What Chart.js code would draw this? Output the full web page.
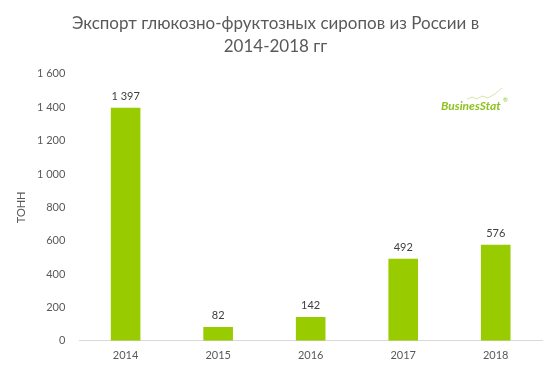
<!DOCTYPE html>
<html><head><meta charset="utf-8">
<script src="https://cdn.jsdelivr.net/npm/chart.js@4"></script>
<style>html,body{margin:0;padding:0;background:#fff}#w{width:556px;height:372px}</style>
</head><body><div id="w"><canvas id="c"></canvas></div>
<script>
const titleLines = ['Экспорт глюкозно-фруктозных сиропов из России в', '2014-2018 гг'];
const categories = ['2014', '2015', '2016', '2017', '2018'];
const exportTons = [1397, 82, 142, 492, 576];
const yAxisTitle = 'ТОНН';
const yMax = 1600, yStep = 200;

const fmt = v => String(v).replace(/\B(?=(\d{3})+(?!\d))/g, ' ');
const FONT = 'Lato, "Open Sans", sans-serif';
const GREY = '#595959';

const labelsPlugin = {
  id: 'vlabels',
  afterDatasetsDraw(chart) {
    const ctx = chart.ctx;
    const meta = chart.getDatasetMeta(0);
    ctx.save();
    ctx.font = '11px ' + FONT;
    ctx.fillStyle = '#404040';
    ctx.textAlign = 'center';
    ctx.textBaseline = 'bottom';
    meta.data.forEach((bar, i) => {
      ctx.fillText(fmt(chart.data.datasets[0].data[i]), bar.x, bar.y - 6);
    });
    ctx.restore();
  }
};
const yTitlePlugin = {
  id: 'ytitle',
  afterDraw(chart) {
    const ctx = chart.ctx, a = chart.chartArea;
    ctx.save();
    ctx.translate(21, (a.top + a.bottom) / 2);
    ctx.rotate(-Math.PI / 2);
    ctx.font = '11px ' + FONT;
    ctx.fillStyle = GREY;
    ctx.textAlign = 'center';
    ctx.textBaseline = 'middle';
    ctx.fillText(yAxisTitle, 0, 0);
    ctx.restore();
  }
};
const logoPlugin = {
  id: 'logo',
  afterDraw(chart) {
    const ctx = chart.ctx;
    ctx.save();
    ctx.font = 'italic bold 12px ' + FONT;
    ctx.fillStyle = '#8dc21f';
    ctx.textBaseline = 'alphabetic';
    ctx.textAlign = 'left';
    ctx.fillText('BusinesStat', 441, 110);
    ctx.font = '6px ' + FONT;
    ctx.fillText('®', 503, 102);
    ctx.strokeStyle = '#c6dfa0';
    ctx.lineWidth = 0.8;
    ctx.beginPath();
    ctx.moveTo(467, 99);
    ctx.lineTo(472, 97); ctx.lineTo(477, 99); ctx.lineTo(482, 96); ctx.lineTo(488, 98);
    ctx.quadraticCurveTo(496, 94, 502, 88);
    ctx.stroke();
    ctx.restore();
  }
};

new Chart(document.getElementById('c'), {
  type: 'bar',
  data: {
    labels: categories,
    datasets: [{ data: exportTons, backgroundColor: '#99cc00', barPercentage: 0.32, categoryPercentage: 1 }]
  },
  options: {
    responsive: true, maintainAspectRatio: false, animation: false,
    layout: { padding: { left: 9, right: 14, top: 4, bottom: 2 } },
    plugins: {
      legend: { display: false },
      tooltip: { enabled: false },
      title: {
        display: true, text: titleLines, color: GREY,
        font: { family: FONT, size: 17, weight: 'normal', lineHeight: 1.35 },
        padding: { top: 8, bottom: 16 }
      }
    },
    scales: {
      x: {
        grid: { display: false, drawTicks: false },
        border: { display: true, color: '#d9d9d9', width: 1 },
        ticks: { color: GREY, font: { family: FONT, size: 11 }, padding: 8 }
      },
      y: {
        min: 0, max: yMax,
        grid: { display: false, drawTicks: false },
        border: { display: false },
        afterFit(scale) { scale.width += 14; },
        ticks: { stepSize: yStep, color: GREY, font: { family: FONT, size: 11 }, padding: 14, callback: v => fmt(v) },
        title: { display: false }
      }
    }
  },
  plugins: [labelsPlugin, yTitlePlugin, logoPlugin]
});
</script></body></html>
